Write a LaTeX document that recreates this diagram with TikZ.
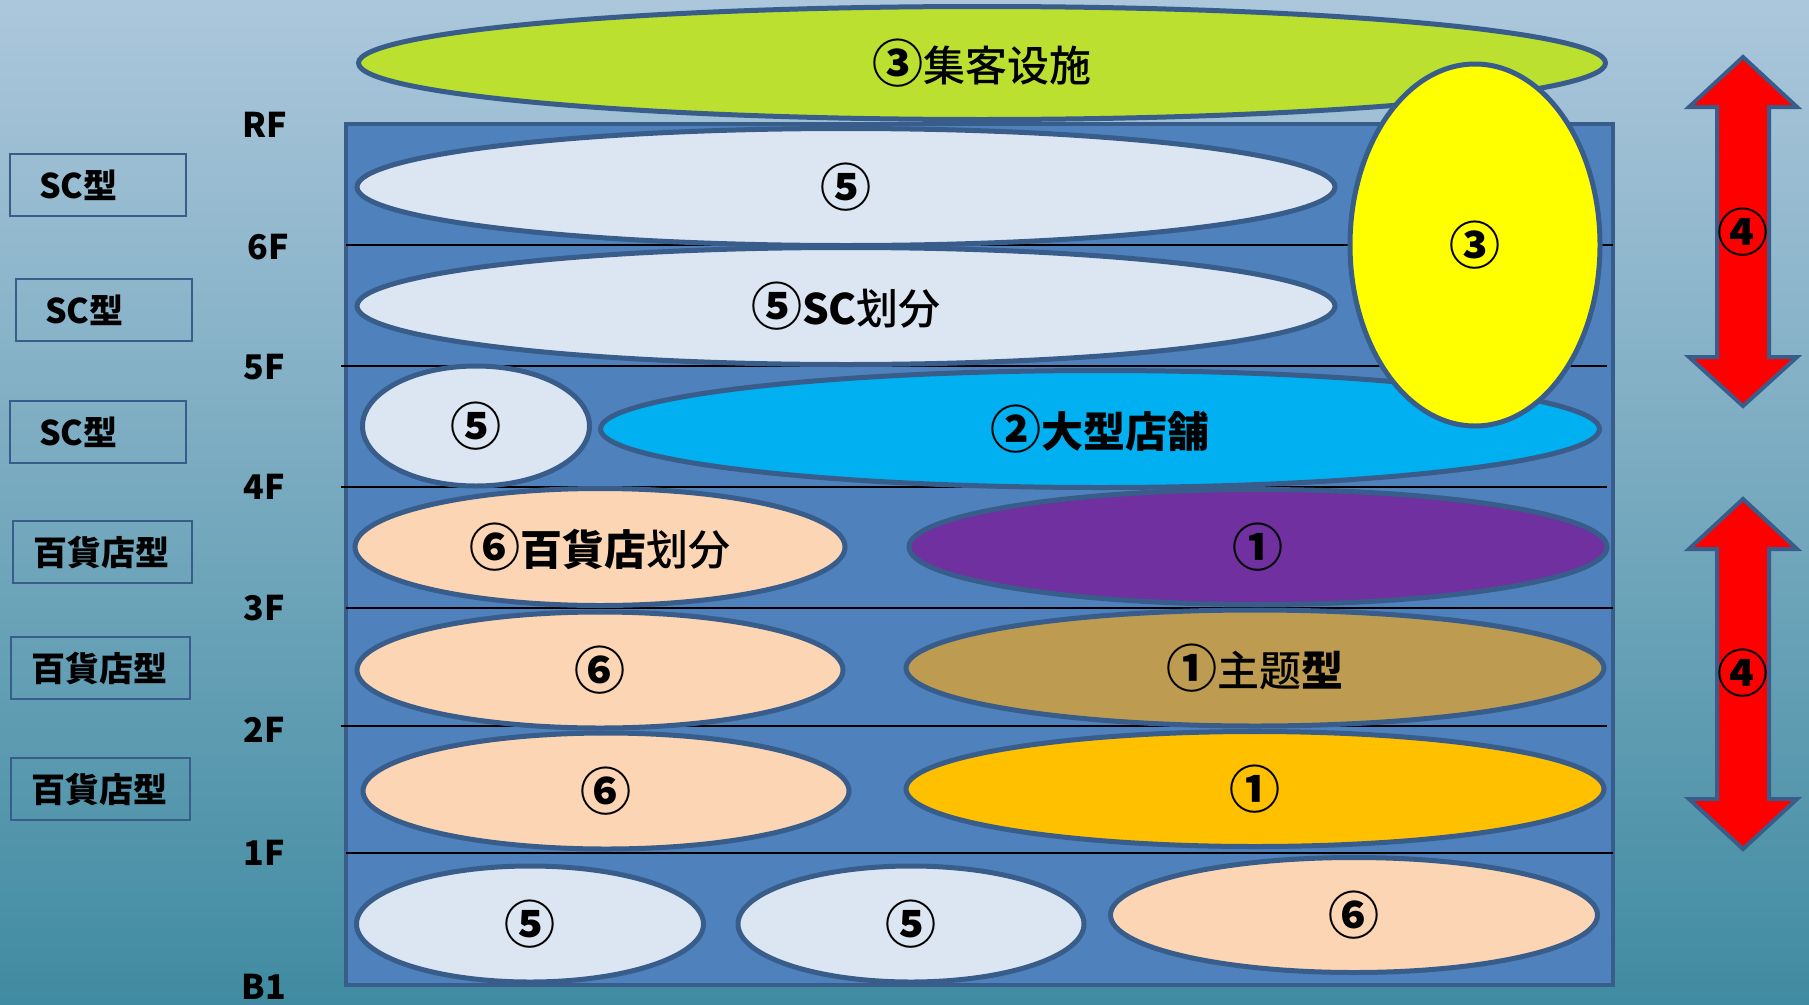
\documentclass[tikz,border=0pt]{standalone}
\usepackage{fontspec}
\setmainfont{Noto Sans CJK JP}
\newfontfamily\medfont{Noto Sans CJK JP Medium}
\usetikzlibrary{shapes.geometric}
\definecolor{bgtop}{RGB}{172,199,220}
\definecolor{bgbot}{RGB}{64,139,161}
\definecolor{edgeblue}{RGB}{56,93,138}
\definecolor{mainblue}{RGB}{79,129,189}
\definecolor{lightfill}{RGB}{220,230,242}
\definecolor{peach}{RGB}{252,213,181}
\definecolor{purplefill}{RGB}{112,48,160}
\definecolor{tanfill}{RGB}{189,155,80}
\definecolor{orangefill}{RGB}{255,192,0}
\definecolor{cyanfill}{RGB}{0,176,240}
\definecolor{yellowfill}{RGB}{255,255,0}
\definecolor{greenfill}{RGB}{187,224,48}
\definecolor{redfill}{RGB}{255,0,0}
\newcommand\biglabel{\fontsize{42}{46}\selectfont\bfseries}
\newcommand\smalllabel{\fontsize{34}{38}\selectfont\bfseries}
\newcommand\cnum[1]{{\fontsize{51}{51}\selectfont\raisebox{-1pt}{#1}}}
\newcommand\lite[1]{{\mdseries\medfont #1}}
\begin{document}
\begin{tikzpicture}[x=1pt,y=-1pt,
  ell/.style={ellipse, draw=edgeblue, line width=5pt, inner sep=0pt, font=\biglabel, text=black},
  floorlab/.style={font=\smalllabel, text=black, inner sep=0pt},
  floorline/.style={draw=black, line width=1.6pt},
  sidebox/.style={draw=edgeblue, line width=2pt, minimum height=62pt, font=\smalllabel, align=left, text=black, inner ysep=0pt},
  scbox/.style={sidebox, minimum width=176pt, inner xsep=29pt, text width=118pt},
  dsbox/.style={sidebox, minimum width=179pt, inner xsep=21pt, text width=137pt},
  arrowshape/.style={fill=redfill, draw=edgeblue, line width=4pt, line join=miter},
  arrowlab/.style={font=\biglabel, text=black, inner sep=0pt}
]
\useasboundingbox (0,0) rectangle (1809,1004);
\shade[top color=bgtop, bottom color=bgbot] (0,0) rectangle (1809,1004);

% top attraction facility ellipse
\node[ell, fill=greenfill, minimum width=1247pt, minimum height=113pt] (green) at (982,63) {\cnum{③}\lite{集客设施}};

% main building
\draw[fill=mainblue, draw=edgeblue, line width=4pt] (346,124) rectangle (1613,985);

% floor lines
\draw[floorline] (346,245) -- (1613,245);
\draw[floorline] (341,366) -- (1607,366);
\draw[floorline] (341,487) -- (1607,487);
\draw[floorline] (346,608) -- (1613,608);
\draw[floorline] (341,726) -- (1607,726);
\draw[floorline] (346,853) -- (1613,853);

% floor labels
\node[floorlab] (lRF) at (265,125) {RF};
\node[floorlab] (l6F) at (268,247) {6F};
\node[floorlab] (l5F) at (264,367) {5F};
\node[floorlab] (l4F) at (264,487) {4F};
\node[floorlab] (l3F) at (264,608) {3F};
\node[floorlab] (l2F) at (264,730) {2F};
\node[floorlab] (l1F) at (264,853) {1F};
\node[floorlab] (lB1) at (264,987) {B1};

% side boxes
\node[scbox] (b1) at (98,185) {SC型};
\node[scbox] (b2) at (104,310) {SC型};
\node[scbox] (b3) at (98,432) {SC型};
\node[dsbox] (b4) at (102,552) {百貨店型};
\node[dsbox] (b5) at (100,668) {百貨店型};
\node[dsbox] (b6) at (100,789) {百貨店型};

% floor ellipses
\node[ell, fill=lightfill, minimum width=978pt, minimum height=117pt] (e7) at (846,187) {\cnum{⑤}};
\node[ell, fill=lightfill, minimum width=978pt, minimum height=117pt] (e6) at (846,306) {\cnum{⑤}SC\lite{划分}};
\node[ell, fill=lightfill, minimum width=227pt, minimum height=120pt] (e5a) at (476,426) {\cnum{⑤}};
\node[ell, fill=cyanfill, minimum width=999pt, minimum height=117pt] (e5b) at (1100,429) {\cnum{②}大型店舗};
\node[ell, fill=peach, minimum width=490pt, minimum height=117pt] (e4a) at (600,547) {\cnum{⑥}百貨店\lite{划分}};
\node[ell, fill=purplefill, minimum width=698pt, minimum height=115pt] (e4b) at (1258,547) {\cnum{①}};
\node[ell, fill=peach, minimum width=486pt, minimum height=116pt] (e3a) at (600,670) {\cnum{⑥}};
\node[ell, fill=tanfill, minimum width=698pt, minimum height=116pt] (e3b) at (1255,668) {\cnum{①}\lite{主题}型};
\node[ell, fill=peach, minimum width=486pt, minimum height=116pt] (e2a) at (606,791) {\cnum{⑥}};
\node[ell, fill=orangefill, minimum width=698pt, minimum height=115pt] (e2b) at (1255,789) {\cnum{①}};
\node[ell, fill=lightfill, minimum width=347pt, minimum height=116pt] (e1a) at (530,924) {\cnum{⑤}};
\node[ell, fill=lightfill, minimum width=346pt, minimum height=116pt] (e1b) at (911,924) {\cnum{⑤}};
\node[ell, fill=peach, minimum width=487pt, minimum height=115pt] (e1c) at (1354,915) {\cnum{⑥}};

% vertical attraction ellipse
\node[ell, fill=yellowfill, minimum width=250pt, minimum height=362pt] (yel) at (1475,245) {\cnum{③}};

% double arrows
\draw[arrowshape] (1743,57) -- (1797,107) -- (1769,107) -- (1769,357) -- (1797,357) -- (1743,406)
  -- (1689,357) -- (1717,357) -- (1717,107) -- (1689,107) -- cycle;
\node[arrowlab] (a1) at (1743,232) {\cnum{④}};
\draw[arrowshape] (1743,499) -- (1797,549) -- (1769,549) -- (1769,799) -- (1797,799) -- (1743,849)
  -- (1689,799) -- (1717,799) -- (1717,549) -- (1689,549) -- cycle;
\node[arrowlab] (a2) at (1743,673) {\cnum{④}};
\end{tikzpicture}
\end{document}
